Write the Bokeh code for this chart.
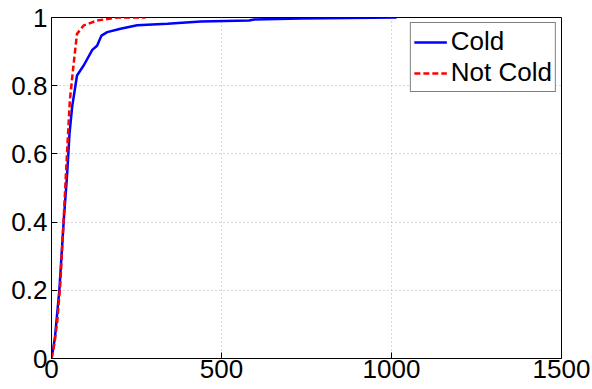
from bokeh.plotting import figure
from bokeh.models import Range1d, FixedTicker, CustomJSTickFormatter, Legend, LegendItem
from bokeh.embed import file_html
from bokeh.resources import INLINE

# Data (CDF curves)
cold_x = [0, 10, 23, 36, 46, 53, 61, 75, 95, 120, 134, 147, 164, 203, 252, 341, 439, 581, 596, 734, 1015]
cold_y = [0, 0.06, 0.2, 0.405, 0.54, 0.66, 0.74, 0.83, 0.86, 0.905, 0.917, 0.947, 0.957, 0.967, 0.977,
          0.982, 0.988, 0.991, 0.994, 0.997, 1.0]
notcold_x = [0, 8, 17, 26, 36, 46, 54, 64, 75, 95, 134, 193, 277]
notcold_y = [0, 0.04, 0.11, 0.22, 0.414, 0.61, 0.757, 0.854, 0.952, 0.977, 0.991, 1.0, 1.0]
x_ticks = [0, 500, 1000, 1500]
y_ticks = [0, 0.2, 0.4, 0.6, 0.8, 1]

FONT = "Liberation Sans"
FS = "26px"

p = figure(width=592, height=389, output_backend="svg", toolbar_location=None,
           x_range=Range1d(0, 1500), y_range=Range1d(0, 1),
           min_border_left=51, min_border_right=31, min_border_top=17, min_border_bottom=31)
p.background_fill_color = "white"
p.border_fill_color = "white"
p.outline_line_color = "black"
p.outline_line_width = 1

fmt = CustomJSTickFormatter(code="return tick.toString()")
for ax, ticks in ((p.xaxis[0], x_ticks), (p.yaxis[0], y_ticks)):
    ax.ticker = FixedTicker(ticks=ticks)
    ax.formatter = fmt
    ax.major_label_text_font = FONT
    ax.major_label_text_font_size = FS
    ax.major_label_text_color = "black"
    ax.axis_line_color = "black"
    ax.major_tick_in = 6
    ax.major_tick_out = 0
    ax.major_tick_line_color = "black"
    ax.minor_tick_line_color = None
p.xaxis[0].major_label_standoff = 1
p.yaxis[0].major_label_standoff = 4

p.xgrid.ticker = FixedTicker(ticks=x_ticks)
p.ygrid.ticker = FixedTicker(ticks=y_ticks)
for g in (p.xgrid[0], p.ygrid[0]):
    g.grid_line_color = "#b0b0b0"
    g.grid_line_dash = "1 3"
    g.grid_line_width = 1

r1 = p.line(cold_x, cold_y, line_color="#0000ff", line_width=2.5)
r2 = p.line(notcold_x, notcold_y, line_color="#ff0000", line_width=2.5, line_dash="6 3")

legend = Legend(items=[LegendItem(label="Cold", renderers=[r1]),
                       LegendItem(label="Not Cold", renderers=[r2])],
                location="top_right")
legend.label_text_font = FONT
legend.label_text_font_size = FS
legend.label_text_color = "black"
legend.border_line_color = "black"
legend.border_line_width = 1
legend.background_fill_color = "white"
legend.background_fill_alpha = 1
legend.padding = 3
legend.spacing = 0
legend.margin = 5
legend.glyph_width = 33
legend.glyph_height = 28
legend.label_height = 28
legend.label_standoff = 4
p.add_layout(legend)

open("out.html", "w").write(file_html(p, INLINE))
